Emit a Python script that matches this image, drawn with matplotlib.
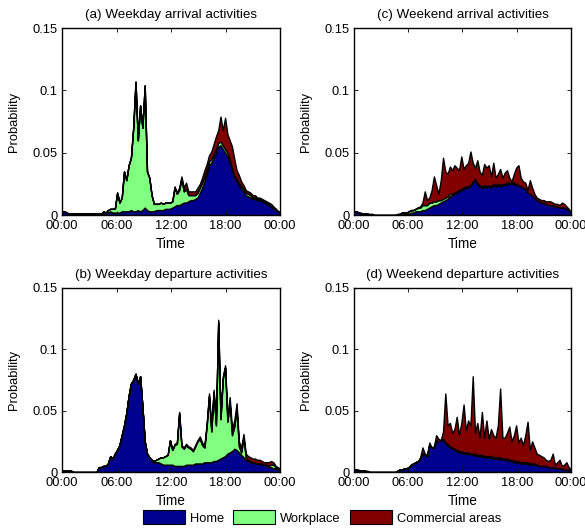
import numpy as np
import matplotlib
matplotlib.use("Agg")
import matplotlib.pyplot as plt
from matplotlib.patches import Patch

plt.rcParams['font.family'] = ['Liberation Sans', 'DejaVu Sans']
plt.rcParams['font.size'] = 9.3

# 15-minute bins, values in per mille (divided by 1000 below)
# (a) weekday arrivals
home_a = [3, 3, 2, 1, 1, 1, 1, 1, 1, 1, 1, 1, 1, 1, 1, 1,
          1, 1, 2, 1, 2, 3, 2, 2, 2, 2, 3, 3, 3, 3, 4, 3,
          3, 4, 3, 4, 6, 4, 3, 3, 3, 4, 4, 4, 4, 5, 5, 5,
          6, 7, 8, 8, 9, 10, 10, 11, 12, 12, 13, 14, 18, 22, 27, 33,
          40, 42, 46, 50, 55, 56, 53, 50, 47, 42, 36, 30, 27, 24, 21, 19,
          16, 15, 14, 13, 13, 12, 12, 11, 10, 9, 8, 7, 5, 4, 3, 2]
work_a = [0, 0, 0, 0, 0, 0, 0, 0, 0, 0, 0, 0, 0, 0, 0, 0,
          0, 0, 1, 1, 2, 2, 3, 3, 16, 8, 11, 32, 25, 37, 42, 67,
          104, 56, 85, 66, 98, 31, 27, 13, 6, 5, 5, 6, 5, 5, 5, 5,
          5, 15, 9, 12, 20, 9, 11, 5, 4, 4, 3, 4, 4, 4, 4, 3,
          3, 3, 3, 3, 3, 3, 3, 3, 3, 3, 2, 2, 2, 2, 2, 2,
          2, 2, 2, 1, 1, 1, 1, 1, 1, 1, 1, 1, 1, 1, 0, 0]
comm_a = [0, 0, 0, 0, 0, 0, 0, 0, 0, 0, 0, 0, 0, 0, 0, 0,
          0, 0, 0, 0, 0, 0, 0, 0, 0, 0, 0, 0, 0, 0, 0, 0,
          0, 0, 0, 0, 0, 0, 0, 0, 0, 0, 0, 0, 0, 0, 0, 0,
          0, 1, 1, 2, 2, 3, 5, 3, 3, 3, 3, 4, 3, 4, 5, 5,
          5, 6, 8, 10, 10, 20, 12, 25, 15, 15, 17, 13, 7, 6, 4, 3,
          2, 2, 2, 2, 2, 1, 1, 1, 1, 1, 1, 1, 1, 0, 0, 0]

# (b) weekday departures
home_b = [1, 1, 1, 1, 1, 0, 0, 0, 0, 0, 0, 0, 0, 0, 0, 0,
          4, 4, 5, 5, 7, 13, 11, 15, 18, 22, 30, 38, 48, 62, 72, 75,
          80, 72, 78, 53, 25, 15, 12, 9, 8, 8, 8, 7, 6, 6, 6, 6,
          6, 5, 5, 5, 5, 5, 6, 6, 6, 6, 7, 7, 7, 7, 8, 8,
          8, 8, 9, 9, 10, 11, 12, 13, 15, 16, 17, 19, 18, 16, 14, 12,
          10, 9, 8, 8, 7, 7, 7, 6, 6, 5, 4, 4, 3, 3, 2, 1]
work_b = [0, 0, 0, 0, 0, 0, 0, 0, 0, 0, 0, 0, 0, 0, 0, 0,
          0, 0, 0, 0, 0, 0, 0, 0, 0, 0, 0, 0, 0, 0, 0, 0,
          0, 0, 0, 0, 0, 0, 0, 1, 1, 2, 3, 5, 6, 7, 8, 20,
          12, 17, 18, 43, 16, 14, 16, 14, 13, 11, 14, 18, 20, 15, 12, 30,
          54, 25, 56, 29, 112, 32, 64, 72, 26, 40, 13, 18, 33, 5, 2, 16,
          2, 1, 1, 0, 1, 0, 0, 1, 0, 1, 1, 2, 3, 1, 1, 1]
comm_b = [0, 0, 0, 0, 0, 0, 0, 0, 0, 0, 0, 0, 0, 0, 0, 0,
          0, 0, 0, 0, 0, 0, 0, 0, 0, 0, 0, 0, 0, 0, 0, 0,
          0, 0, 0, 0, 0, 0, 0, 0, 0, 0, 0, 0, 0, 0, 0, 0,
          0, 1, 1, 1, 1, 1, 1, 1, 1, 1, 1, 1, 2, 2, 2, 2,
          2, 2, 2, 2, 2, 2, 2, 2, 4, 5, 5, 5, 5, 4, 4, 3,
          3, 3, 3, 3, 3, 3, 3, 2, 2, 2, 3, 3, 2, 1, 1, 0]

# (c) weekend arrivals
home_c = [3, 3, 2, 1, 1, 1, 1, 0, 0, 0, 0, 0, 0, 0, 0, 0,
          0, 0, 0, 0, 0, 1, 1, 1, 1, 2, 2, 3, 3, 3, 4, 4,
          5, 6, 7, 8, 8, 9, 10, 11, 12, 13, 15, 16, 17, 18, 19, 20,
          21, 22, 22, 23, 26, 28, 25, 23, 22, 23, 22, 23, 22, 24, 23, 24,
          23, 24, 24, 25, 25, 25, 25, 24, 24, 23, 22, 21, 18, 17, 16, 14,
          12, 11, 10, 10, 9, 8, 8, 8, 7, 7, 6, 6, 6, 5, 4, 2]
work_c = [0, 0, 0, 0, 0, 0, 0, 0, 0, 0, 0, 0, 0, 0, 0, 0,
          0, 0, 0, 0, 1, 1, 1, 1, 2, 2, 2, 2, 3, 3, 4, 4,
          3, 4, 3, 3, 3, 3, 2, 2, 2, 2, 2, 1, 1, 1, 1, 1,
          1, 1, 1, 1, 1, 1, 1, 1, 1, 1, 1, 1, 1, 1, 1, 1,
          1, 1, 1, 1, 1, 1, 1, 1, 0, 0, 0, 0, 0, 0, 0, 0,
          0, 0, 0, 0, 0, 0, 0, 0, 0, 0, 0, 0, 0, 0, 0, 0]
comm_c = [0, 0, 0, 1, 0, 0, 0, 1, 1, 0, 0, 0, 0, 0, 0, 0,
          0, 0, 0, 1, 0, 0, 0, 0, 0, 0, 0, 0, 0, 1, 2, 11,
          4, 4, 10, 20, 13, 5, 16, 33, 21, 18, 22, 19, 22, 19, 16, 26,
          15, 17, 19, 27, 15, 9, 18, 11, 9, 17, 15, 16, 8, 17, 6, 8,
          13, 5, 9, 10, 4, 1, 7, 13, 16, 7, 5, 5, 2, 11, 6, 3,
          2, 2, 2, 2, 2, 3, 3, 2, 2, 2, 2, 4, 3, 2, 1, 0]

# (d) weekend departures
home_d = [2, 2, 1, 1, 1, 1, 0, 0, 0, 0, 0, 0, 0, 0, 0, 0,
          0, 0, 0, 1, 2, 2, 3, 3, 4, 6, 7, 8, 9, 11, 15, 14,
          13, 22, 20, 20, 26, 25, 26, 27, 23, 22, 20, 19, 18, 17, 16, 16,
          15, 15, 15, 14, 14, 14, 13, 13, 13, 12, 12, 12, 12, 11, 11, 11,
          11, 10, 10, 10, 9, 9, 8, 8, 8, 7, 7, 7, 7, 6, 6, 6,
          6, 5, 5, 5, 5, 4, 4, 4, 4, 3, 3, 3, 2, 2, 2, 1]
work_d = [0, 0, 0, 0, 0, 0, 0, 0, 0, 0, 0, 0, 0, 0, 0, 0,
          0, 0, 0, 0, 0, 0, 0, 0, 0, 0, 0, 0, 0, 0, 0, 0,
          0, 0, 0, 0, 0, 0, 0, 0, 1, 1, 1, 1, 1, 1, 1, 1,
          1, 1, 1, 1, 1, 1, 1, 1, 1, 1, 1, 1, 1, 1, 1, 1,
          1, 1, 1, 1, 1, 1, 1, 1, 1, 1, 1, 1, 1, 1, 1, 1,
          0, 0, 0, 0, 0, 0, 0, 0, 0, 0, 0, 0, 0, 0, 0, 0]
comm_d = [0, 0, 1, 0, 0, 0, 1, 0, 0, 0, 0, 0, 0, 0, 0, 0,
          0, 0, 0, 0, 0, 0, 0, 0, 0, 0, 0, 0, 0, 1, 5, 1,
          1, 2, 0, 1, 4, 2, 0, 6, 40, 15, 19, 12, 16, 27, 13, 23,
          39, 18, 26, 23, 63, 17, 26, 14, 35, 15, 29, 14, 22, 18, 16, 26,
          56, 17, 17, 21, 27, 15, 21, 29, 15, 20, 14, 22, 33, 11, 18, 13,
          9, 9, 8, 7, 5, 5, 6, 11, 2, 5, 7, 2, 4, 6, 2, 1]

titles = ["(a) Weekday arrival activities", "(b) Weekday departure activities",
          "(c) Weekend arrival activities", "(d) Weekend departure activities"]
series = [(home_a, work_a, comm_a), (home_b, work_b, comm_b),
          (home_c, work_c, comm_c), (home_d, work_d, comm_d)]
labels = ["Home", "Workplace", "Commercial areas"]
colors = ["#00008F", "#80FF80", "#800000"]
xticklabels = ["00:00", "06:00", "12:00", "18:00", "00:00"]

hours = np.linspace(0, 24, 96)

fig = plt.figure(figsize=(5.85, 5.31), dpi=100)
# axes boxes in figure fractions: (a), (b), (c), (d)
boxes = [(0.106, 0.595, 0.373, 0.352), (0.106, 0.111, 0.373, 0.347),
         (0.605, 0.595, 0.371, 0.352), (0.605, 0.111, 0.371, 0.347)]

for box, title, (h, w, c) in zip(boxes, titles, series):
    ax = fig.add_axes(box)
    ax.stackplot(hours, np.array(h) / 1000, np.array(w) / 1000, np.array(c) / 1000,
                 colors=colors, edgecolor="black", linewidth=1.0)
    ax.set_xlim(0, 24)
    ax.set_ylim(0, 0.15)
    ax.set_xticks([0, 6, 12, 18, 24])
    ax.set_xticklabels(xticklabels)
    ax.set_yticks([0, 0.05, 0.1, 0.15])
    ax.set_yticklabels(["0", "0.05", "0.1", "0.15"])
    ax.tick_params(direction="in", top=True, right=True, length=3, width=0.6, pad=3)
    ax.tick_params(axis="x", pad=3.5)
    ax.set_title(title, fontsize=9.6, pad=7)
    ax.set_xlabel("Time", fontsize=9.8, labelpad=4)
    ax.set_ylabel("Probability", labelpad=9)
    for s in ax.spines.values():
        s.set_linewidth(1.0)

handles = [Patch(facecolor=col, edgecolor="black", linewidth=0.8) for col in colors]
fig.legend(handles, labels, loc="lower center", ncol=3, frameon=False,
           bbox_to_anchor=(0.55, -0.01), handlelength=3.25, handleheight=1.3,
           handletextpad=0.4, columnspacing=0.7, fontsize=9.3)

fig.savefig("out.png", dpi=100)
